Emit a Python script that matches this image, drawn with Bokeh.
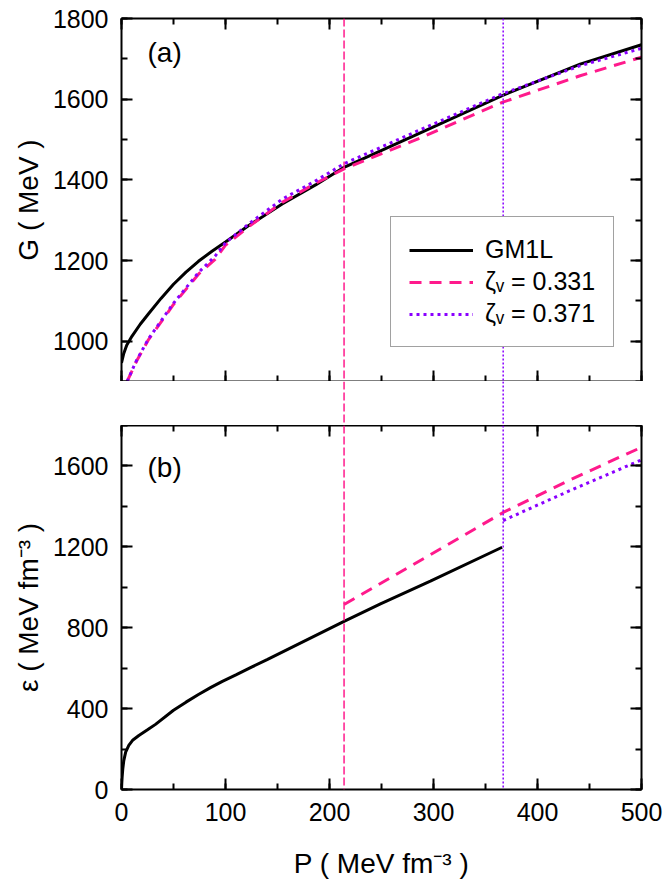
from bokeh.plotting import figure
from bokeh.models import Range1d, LinearAxis, Span, Legend, LegendItem, Label, SingleIntervalTicker
from bokeh.layouts import column
from bokeh.embed import file_html
from bokeh.resources import INLINE

# ---------------- data ----------------
# panel (a): G vs P
P_gm1l_G = [0, 2, 5, 10, 18, 26, 38, 50, 62, 74, 87, 100, 122, 154.5, 187, 214, 281, 366, 441, 500]
G_gm1l = [946, 968, 990, 1012, 1042, 1068, 1106, 1141, 1171, 1198, 1223, 1246, 1286, 1340, 1388, 1431, 1509, 1609, 1687, 1735]

P_z331_G = [5.4, 14.4, 26, 50, 74, 90, 100, 122, 154.5, 187, 214, 281, 366, 441, 500]
G_z331 = [900, 950, 1004, 1091, 1166, 1203, 1238, 1283, 1344, 1392, 1427, 1497, 1592, 1658, 1704]

P_z371_G = [5.4, 14.4, 26, 50, 74, 90, 100, 122, 154.5, 187, 214, 281, 366, 441, 500]
G_z371 = [900, 952, 1006, 1094, 1170, 1211, 1244, 1290, 1352, 1398, 1440, 1517, 1613, 1683, 1726]

# panel (b): energy density vs P
P_gm1l_eps = [0, 0.3, 0.6, 1.2, 2.2, 4, 7, 11, 16.7, 25, 32.7, 50, 62, 74, 86, 97, 110, 125, 140, 214, 249, 297, 366]
eps_gm1l = [0, 35, 61, 100, 143, 185, 218, 245, 267, 295, 322, 392, 432, 470, 505, 535, 567, 605, 642, 831, 918, 1030, 1198]

P_z331_eps = [214, 291, 367, 430, 486, 500]
eps_z331 = [915, 1143, 1370, 1528, 1660, 1692]

P_z371_eps = [367, 432, 500]
eps_z371 = [1330, 1480, 1630]

P_transition = [214, 367]

series_labels = ["GM1L", "\u03b6\u1d65 = 0.331", "\u03b6\u1d65 = 0.371"]
panel_labels = ["(a)", "(b)"]

# ---------------- style ----------------
FONT = "Liberation Sans"
BLACK = "#000000"
PINK = "#FF1A8C"
PURPLE = "#8A00FF"
W = 665
LEFT = 121
RIGHT = 24


def style_axis(ax, labels):
    ax.axis_line_color = BLACK
    ax.axis_line_width = 2
    ax.major_tick_in = 11
    ax.major_tick_out = 0
    ax.minor_tick_in = 6
    ax.minor_tick_out = 0
    ax.major_tick_line_color = BLACK
    ax.minor_tick_line_color = BLACK
    ax.major_tick_line_width = 2
    ax.minor_tick_line_width = 2
    ax.axis_label_text_font = FONT
    ax.axis_label_text_font_style = "normal"
    ax.axis_label_text_font_size = "28px"
    ax.axis_label_text_color = BLACK
    if labels:
        ax.major_label_text_font = FONT
        ax.major_label_text_font_size = "25px"
        ax.major_label_text_color = BLACK
        ax.major_label_standoff = 13
    else:
        ax.major_label_text_color = None
        ax.major_label_text_alpha = 0
        ax.major_label_text_font_size = "1px"
        ax.major_label_standoff = 0


def boxed(p, xticker, yticker, xlabels):
    bottom = p.below[0]
    left = p.left[0]
    bottom.ticker = xticker
    left.ticker = yticker
    style_axis(bottom, xlabels)
    style_axis(left, True)
    top = LinearAxis(ticker=xticker)
    right = LinearAxis(ticker=yticker)
    style_axis(top, False)
    style_axis(right, False)
    p.add_layout(top, "above")
    p.add_layout(right, "right")
    p.grid.visible = False
    p.outline_line_color = None


def vlines(p):
    p.add_layout(Span(location=P_transition[0], dimension="height", line_color=PINK,
                      line_width=1.5, line_dash="8 3"))
    p.add_layout(Span(location=P_transition[1], dimension="height", line_color=PURPLE,
                      line_width=1.5, line_dash="2 2"))


# ---------------- panel (a) ----------------
pa = figure(width=W, height=381, x_range=Range1d(0, 500), y_range=Range1d(900, 1800),
            min_border_left=LEFT, min_border_right=RIGHT, min_border_top=18, min_border_bottom=0,
            output_backend="svg", toolbar_location=None)
boxed(pa, SingleIntervalTicker(interval=100, num_minor_ticks=2),
      SingleIntervalTicker(interval=200, num_minor_ticks=2), False)
pa.left[0].axis_label = "G ( MeV )"
pa.left[0].axis_label_standoff = 6
vlines(pa)

ra1 = pa.line(P_gm1l_G, G_gm1l, line_color=BLACK, line_width=3)
ra2 = pa.line(P_z331_G, G_z331, line_color=PINK, line_width=3, line_dash="12 8")
ra3 = pa.line(P_z371_G, G_z371, line_color=PURPLE, line_width=3, line_dash="3 4")

legend = Legend(items=[LegendItem(label=series_labels[0], renderers=[ra1]),
                       LegendItem(label=series_labels[1], renderers=[ra2]),
                       LegendItem(label=series_labels[2], renderers=[ra3])],
                location=(269, 34))
legend.label_text_font = FONT
legend.label_text_font_size = "25px"
legend.label_text_color = BLACK
legend.glyph_width = 64
legend.glyph_height = 28
legend.label_standoff = 12
legend.padding = 18
legend.spacing = 3
legend.margin = 0
legend.border_line_color = "#444444"
legend.border_line_width = 1
legend.background_fill_color = "white"
legend.background_fill_alpha = 1.0
pa.add_layout(legend)

pa.add_layout(Label(x=25, y=1716, text=panel_labels[0], text_font=FONT, text_font_size="28px",
                    text_baseline="middle", text_align="left", text_color=BLACK))

# ---------------- gap between panels (vertical markers continue) ----------------
pg = figure(width=W, height=44, x_range=pa.x_range, y_range=Range1d(0, 1),
            min_border_left=LEFT, min_border_right=RIGHT, min_border_top=0, min_border_bottom=0,
            x_axis_location=None, y_axis_location=None,
            output_backend="svg", toolbar_location=None)
pg.grid.visible = False
pg.outline_line_color = None
vlines(pg)

# ---------------- panel (b) ----------------
pb = figure(width=W, height=457, x_range=pa.x_range, y_range=Range1d(0, 1800),
            min_border_left=LEFT, min_border_right=RIGHT, min_border_top=0, min_border_bottom=93,
            output_backend="svg", toolbar_location=None)
boxed(pb, SingleIntervalTicker(interval=100, num_minor_ticks=2),
      SingleIntervalTicker(interval=400, num_minor_ticks=2), True)
pb.left[0].axis_label = "\u03b5 ( MeV fm\u207b\u00b3 )"
pb.left[0].axis_label_standoff = 6
pb.below[0].axis_label = "P ( MeV fm\u207b\u00b3 )"
pb.below[0].axis_label_standoff = 24
vlines(pb)

pb.line(P_gm1l_eps, eps_gm1l, line_color=BLACK, line_width=3)
pb.line(P_z331_eps, eps_z331, line_color=PINK, line_width=3, line_dash="12 8")
pb.line(P_z371_eps, eps_z371, line_color=PURPLE, line_width=3, line_dash="3 4")

pb.add_layout(Label(x=25, y=1592, text=panel_labels[1], text_font=FONT, text_font_size="28px",
                    text_baseline="middle", text_align="left", text_color=BLACK))

layout = column(pa, pg, pb, spacing=0)
open("out.html", "w").write(file_html(layout, INLINE))
